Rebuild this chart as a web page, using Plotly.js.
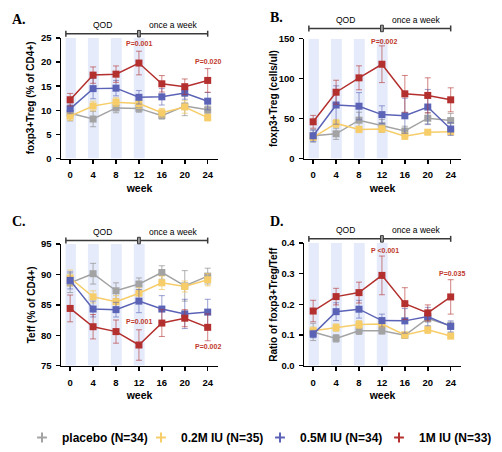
<!DOCTYPE html>
<html>
<head>
<meta charset="utf-8">
<script src="https://cdn.plot.ly/plotly-3.0.1.min.js"></script>
<style>
  html, body { margin: 0; padding: 0; background: #fff; }
  #chart { width: 502px; height: 452px; }
</style>
</head>
<body>
<div id="chart"></div>
<script>
// Study visits (weeks)
const weeks = [0, 4, 8, 12, 16, 20, 24];
const dosingWeeks = [0, 4, 8, 12];
const groupNames = ['placebo (N=34)', '0.2M IU (N=35)', '0.5M IU (N=34)', '1M IU (N=33)'];
const groupColors = ['#a3a3a3', '#f6cd69', '#5b63b6', '#b3302e'];
const groupErrColors = ['rgba(150,150,150,0.75)', 'rgba(240,200,100,0.75)', 'rgba(90,99,182,0.6)', 'rgba(179,48,46,0.6)'];

// A. foxp3+Treg (% of CD4+)
const tregPctPlacebo = [9.4, 8.2, 10.5, 10.4, 8.9, 10.9, 10.1];
const tregPctPlaceboErr = [1.6, 1.6, 1.0, 0.8, 0.7, 2.0, 0.8];
const tregPctLow = [8.8, 10.9, 11.7, 11.4, 9.5, 10.7, 8.5];
const tregPctLowErr = [0.9, 1.0, 0.9, 1.0, 0.9, 1.3, 0.7];
const tregPctMid = [10.3, 14.5, 14.6, 12.7, 12.8, 13.6, 11.9];
const tregPctMidErr = [1.0, 2.1, 1.6, 1.4, 1.7, 1.3, 1.8];
const tregPctHigh = [12.2, 17.3, 17.5, 19.8, 15.5, 14.9, 16.2];
const tregPctHighErr = [1.3, 1.7, 1.7, 2.45, 1.7, 1.6, 2.45];

// B. foxp3+Treg (cells/ul)
const tregCntPlacebo = [28.5, 31, 48, 41, 34.5, 50.5, 47.5];
const tregCntPlaceboErr = [8, 7, 10, 8, 6, 7, 9];
const tregCntLow = [26.5, 44, 36.5, 37, 28, 33, 33.5];
const tregCntLowErr = [3, 5, 4, 4, 4, 3, 3];
const tregCntMid = [28.5, 67, 65.5, 55, 53.5, 64.5, 37];
const tregCntMidErr = [7, 24, 17, 11, 22, 22, 8];
const tregCntHigh = [46, 83, 101, 118, 81, 79, 73.5];
const tregCntHighErr = [8, 15, 15, 23, 23, 22, 15];

// C. Teff (% of CD4+)
const teffPlacebo = [88.6, 90.1, 87.3, 88.4, 90.3, 88.1, 89.7];
const teffPlaceboErr = [1.6, 1.7, 1.3, 1.0, 1.1, 2.5, 1.3];
const teffLow = [89.4, 86.3, 85.5, 86.9, 88.6, 88.0, 89.1];
const teffLowErr = [1.3, 1.0, 1.0, 0.9, 1.1, 0.9, 1.0];
const teffMid = [89.0, 84.3, 84.2, 85.6, 84.3, 83.5, 83.8];
const teffMidErr = [1.4, 1.3, 1.2, 1.9, 2.2, 2.4, 2.1];
const teffHigh = [84.4, 81.4, 80.6, 78.4, 82.0, 82.8, 81.3];
const teffHighErr = [2.2, 2.0, 1.9, 2.5, 2.2, 1.4, 2.2];

// D. Ratio of foxp3+Treg/Teff
const ratioPlacebo = [0.110, 0.089, 0.114, 0.114, 0.099, 0.154, 0.130];
const ratioPlaceboErr = [0.028, 0.012, 0.012, 0.011, 0.008, 0.012, 0.012];
const ratioLow = [0.114, 0.124, 0.134, 0.136, 0.100, 0.117, 0.097];
const ratioLowErr = [0.012, 0.012, 0.013, 0.011, 0.009, 0.012, 0.010];
const ratioMid = [0.103, 0.176, 0.184, 0.147, 0.146, 0.160, 0.128];
const ratioMidErr = [0.012, 0.029, 0.029, 0.021, 0.040, 0.030, 0.018];
const ratioHigh = [0.178, 0.225, 0.238, 0.294, 0.202, 0.172, 0.224];
const ratioHighErr = [0.035, 0.027, 0.034, 0.063, 0.052, 0.026, 0.056];

// Significance labels (1M IU vs placebo)
const pLabelsA = [{ week: 12, value: 23.8, text: 'P=0.001' }, { week: 24, value: 20.2, text: 'P=0.020' }];
const pLabelsB = [{ week: 12.3, value: 147, text: 'P=0.002' }];
const pLabelsC = [{ week: 12, value: 82.3, text: 'P=0.001' }, { week: 24, value: 78.1, text: 'P=0.002' }];
const pLabelsD = [{ week: 12.6, value: 0.375, text: 'P <0.001' }, { week: 24.3, value: 0.300, text: 'P=0.035' }];

const W = 502, H = 452;
const SANS = 'Liberation Sans, Arial, Helvetica, sans-serif';
const SERIF = 'Liberation Serif, Times New Roman, serif';
const XR = [-1.6, 25.8];

const panels = [
  { id: '', label: 'A.', title: 'foxp3+Treg (% of CD4+)', range: [0, 25], dtick: 5, fmt: '',
    px: [61, 218], py: [38.3, 160], bracketUp: 4.3, labelPos: [10, 20], titleX: 30,
    series: [[tregPctPlacebo, tregPctPlaceboErr], [tregPctLow, tregPctLowErr], [tregPctMid, tregPctMidErr], [tregPctHigh, tregPctHighErr]],
    pLabels: pLabelsA },
  { id: '2', label: 'B.', title: 'foxp3+Treg (cells/ul)', range: [0, 150], dtick: 50, fmt: '',
    px: [304, 461], py: [39, 160], bracketUp: 10.3, labelPos: [268, 18], titleX: 273.5,
    series: [[tregCntPlacebo, tregCntPlaceboErr], [tregCntLow, tregCntLowErr], [tregCntMid, tregCntMidErr], [tregCntHigh, tregCntHighErr]],
    pLabels: pLabelsB },
  { id: '3', label: 'C.', title: 'Teff (% of CD4+)', range: [75, 95], dtick: 5, fmt: '',
    px: [61, 218], py: [246, 369], bracketUp: 3.3, labelPos: [10, 223], titleX: 31.5,
    series: [[teffPlacebo, teffPlaceboErr], [teffLow, teffLowErr], [teffMid, teffMidErr], [teffHigh, teffHighErr]],
    pLabels: pLabelsC },
  { id: '4', label: 'D.', title: 'Ratio of foxp3+Treg/Teff', range: [0, 0.4], dtick: 0.1, fmt: '.1f',
    px: [304, 461], py: [245, 369], bracketUp: 4, labelPos: [268, 223], titleX: 273.5,
    series: [[ratioPlacebo, ratioPlaceboErr], [ratioLow, ratioLowErr], [ratioMid, ratioMidErr], [ratioHigh, ratioHighErr]],
    pLabels: pLabelsD }
];

const traces = [];
const shapes = [];
const annotations = [];
const layout = {
  width: W, height: H,
  margin: { l: 0, r: 0, t: 0, b: 0 },
  paper_bgcolor: '#fff', plot_bgcolor: 'rgba(0,0,0,0)',
  font: { family: SANS, color: '#000' },
  showlegend: true,
  legend: {
    orientation: 'h', x: 22 / W, xanchor: 'left', y: 1 - 441.7 / H, yanchor: 'middle',
    font: { family: SANS, size: 12, weight: 'bold', color: '#000' },
    bgcolor: 'rgba(0,0,0,0)', itemwidth: 30, tracegroupgap: 0,
    entrywidth: 74, entrywidthmode: 'pixels'
  }
};

const frac = w => (w - XR[0]) / (XR[1] - XR[0]);

panels.forEach((p, pi) => {
  const xa = 'x' + p.id, ya = 'y' + p.id;
  const plotH = p.py[1] - p.py[0];
  const upFrac = px => 1 + px / plotH;

  layout['xaxis' + p.id] = {
    domain: [p.px[0] / W, p.px[1] / W], anchor: ya, range: XR,
    tickvals: weeks, ticks: 'outside', ticklen: 4, tickwidth: 1.5, tickcolor: '#000',
    showline: true, linewidth: 1.5, linecolor: '#000', showgrid: false, zeroline: false,
    ticklabelstandoff: 3,
    tickfont: { family: SANS, size: 9.5, weight: 'bold', color: '#000' },
    title: { text: 'week', font: { family: SANS, size: 10.5, weight: 'bold', color: '#000' }, standoff: 5 },
    fixedrange: true
  };
  layout['yaxis' + p.id] = {
    domain: [1 - p.py[1] / H, 1 - p.py[0] / H], anchor: xa, range: p.range,
    dtick: p.dtick, tick0: p.range[0], tickformat: p.fmt, ticks: 'outside', ticklen: 4, tickwidth: 1.5, tickcolor: '#000',
    showline: true, linewidth: 1.5, linecolor: '#000', showgrid: false, zeroline: false,
    ticklabelstandoff: 2,
    tickfont: { family: SANS, size: 9.5, weight: 'bold', color: '#000' },
    fixedrange: true
  };

  // y-axis title, rotated beside the tick labels
  annotations.push({ xref: 'paper', yref: ya + ' domain', x: p.titleX / W, y: 0.5, text: p.title, textangle: -90,
    showarrow: false, xanchor: 'center', yanchor: 'middle', font: { family: SANS, size: 10, weight: 'bold', color: '#000' } });

  // weekly dosing bands
  dosingWeeks.forEach(w => {
    shapes.push({ type: 'rect', xref: xa, yref: ya, x0: w === 0 ? -0.8 : w - 0.9, x1: w + 1.0,
      y0: p.range[0], y1: p.range[1], fillcolor: '#e5ebfb', line: { width: 0 }, layer: 'below' });
  });

  // dosing schedule bracket above the plot
  const xd = xa + ' domain', yd = ya + ' domain';
  const yb = upFrac(p.bracketUp);
  const cap = 3 / plotH;
  const bc = '#3a3a3a';
  shapes.push({ type: 'line', xref: xd, yref: yd, x0: frac(-0.75), x1: frac(24), y0: yb, y1: yb, line: { color: bc, width: 1.5 } });
  shapes.push({ type: 'line', xref: xd, yref: yd, x0: frac(-0.75), x1: frac(-0.75), y0: yb - cap, y1: yb + cap, line: { color: bc, width: 1.5 } });
  shapes.push({ type: 'line', xref: xd, yref: yd, x0: frac(24), x1: frac(24), y0: yb - cap, y1: yb + cap, line: { color: bc, width: 1.5 } });
  shapes.push({ type: 'rect', xref: xd, yref: yd, x0: frac(11.75), x1: frac(12.25), y0: yb - 1.1 * cap, y1: yb + 1.1 * cap,
    fillcolor: '#9a9a9a', line: { color: bc, width: 1 } });
  annotations.push({ xref: xd, yref: yd, x: frac(5.6), y: upFrac(p.bracketUp + 9), text: 'QOD', showarrow: false,
    xanchor: 'center', yanchor: 'middle', font: { family: SANS, size: 8.5, color: '#000' } });
  annotations.push({ xref: xd, yref: yd, x: frac(18), y: upFrac(p.bracketUp + 9), text: 'once a week', showarrow: false,
    xanchor: 'center', yanchor: 'middle', font: { family: SANS, size: 8.5, color: '#000' } });

  // panel letter
  annotations.push({ xref: 'paper', yref: 'paper', x: p.labelPos[0] / W, y: 1 - p.labelPos[1] / H, text: p.label,
    showarrow: false, xanchor: 'left', yanchor: 'middle', font: { family: SERIF, size: 14, weight: 'bold', color: '#000' } });

  // p-values
  p.pLabels.forEach(l => {
    annotations.push({ xref: xa, yref: ya, x: l.week, y: l.value, text: l.text, showarrow: false,
      xanchor: 'center', yanchor: 'middle', font: { family: SANS, size: 7, weight: 'bold', color: '#c0392b' } });
  });

  // group series
  p.series.forEach((s, gi) => {
    traces.push({
      type: 'scatter', mode: 'lines+markers', x: weeks, y: s[0], xaxis: xa, yaxis: ya,
      name: groupNames[gi], legendgroup: 'g' + gi, showlegend: false,
      line: { color: groupColors[gi], width: 1.5 },
      marker: { symbol: 'square', size: 7, color: groupColors[gi] },
      error_y: { type: 'data', array: s[1], visible: true, color: groupErrColors[gi], thickness: 1, width: 3 },
      cliponaxis: false, hoverinfo: 'skip'
    });
  });
});

// compact legend keys: a small cross-shaped symbol per group
groupNames.forEach((name, gi) => {
  traces.push({
    type: 'scatter', mode: 'markers', x: [null], y: [null], xaxis: 'x', yaxis: 'y',
    name: name, legendgroup: 'g' + gi, showlegend: true,
    marker: { symbol: 'cross-thin-open', size: 7, color: groupColors[gi], line: { width: 2, color: groupColors[gi] } },
    hoverinfo: 'skip'
  });
});

layout.shapes = shapes;
layout.annotations = annotations;

Plotly.newPlot('chart', traces, layout, { staticPlot: true, displayModeBar: false });
</script>
</body>
</html>
